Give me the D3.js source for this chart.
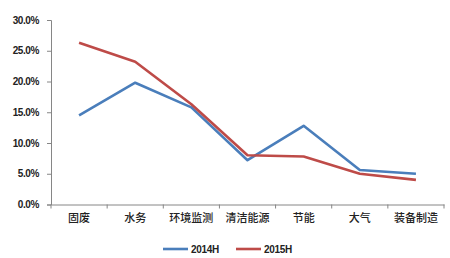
<!DOCTYPE html>
<html><head><meta charset="utf-8">
<script src="https://cdn.jsdelivr.net/npm/d3@7"></script>
<style>body{margin:0;background:#fff}svg{display:block}</style>
</head><body>
<svg id="c" width="450" height="258"></svg>
<script>
const categories = ["固废","水务","环境监测","清洁能源","节能","大气","装备制造"];
const s2014 = [14.5, 19.8, 15.8, 7.2, 12.8, 5.6, 5.0];
const s2015 = [26.3, 23.2, 16.3, 8.0, 7.8, 5.0, 4.0];
const seriesNames = ["2014H","2015H"];
const yTicks = [0,5,10,15,20,25,30];

const svg = d3.select("#c");
const m = {l:51, r:444, t:20, b:204.5};
const x = d3.scaleBand().domain(categories).range([m.l, m.r]);
const y = d3.scaleLinear().domain([0,30]).range([m.b, m.t]);
const colors = ["#4a7ebb","#be4b48"];

const ya = svg.append("g").attr("transform",`translate(${m.l},0)`)
  .call(d3.axisLeft(y).tickValues(yTicks).tickSize(4).tickFormat(d=>d.toFixed(1)+"%"));
ya.select(".domain").attr("stroke","#868686");
ya.selectAll(".tick line").attr("stroke","#868686");
ya.selectAll("text").attr("font-family","Arial, 'Liberation Sans', sans-serif").attr("font-weight","bold")
  .attr("font-size",10).attr("fill","#222").attr("x",-12).style("letter-spacing","-0.4px");

const xa = svg.append("g").attr("transform",`translate(0,${m.b})`)
  .call(d3.axisBottom(x).tickSize(0).tickSizeOuter(0));
xa.select(".domain").attr("stroke","#868686");
xa.selectAll("text").attr("font-family","'Noto Sans CJK SC', sans-serif").attr("font-size",11)
  .attr("font-weight",500).attr("fill","#222").attr("y",10);
// category boundary ticks
const bounds = categories.map(c=>x(c)).concat([m.r]);
svg.append("g").selectAll("line").data(bounds).join("line")
  .attr("x1",d=>d).attr("x2",d=>d).attr("y1",m.b).attr("y2",m.b+4).attr("stroke","#868686");

const line = d3.line().x((d,i)=>x(categories[i])+x.bandwidth()/2).y(d=>y(d));
[s2014, s2015].forEach((s,i)=>{
  svg.append("path").datum(s).attr("d",line).attr("fill","none")
    .attr("stroke",colors[i]).attr("stroke-width",2.6).attr("stroke-linejoin","round");
});

const lg = svg.append("g");
const lx = [163, 236];
seriesNames.forEach((n,i)=>{
  lg.append("line").attr("x1",lx[i]).attr("x2",lx[i]+25).attr("y1",249).attr("y2",249)
    .attr("stroke",colors[i]).attr("stroke-width",2.6);
  lg.append("text").attr("x",lx[i]+28).attr("y",252.5).text(n)
    .attr("font-family","Arial, 'Liberation Sans', sans-serif").attr("font-weight","bold")
    .attr("font-size",10).attr("fill","#222").style("letter-spacing","-0.3px");
});
</script>
</body></html>
